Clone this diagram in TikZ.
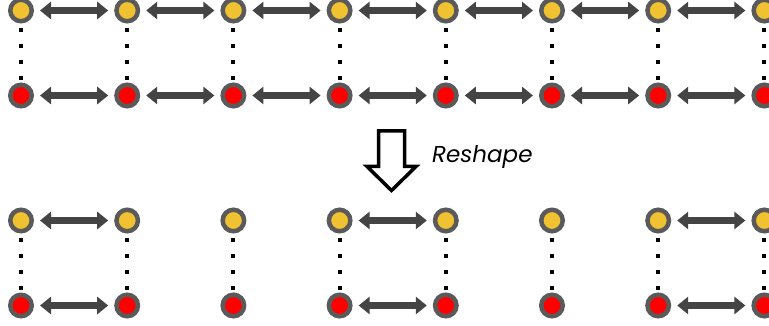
\documentclass[tikz,border=0pt]{standalone}
\usepackage{fontspec}
\setmainfont{Poppins}
\usetikzlibrary{arrows.meta}

\definecolor{ringgray}{RGB}{90,90,90}
\definecolor{linkgray}{RGB}{68,68,68}
\definecolor{sunyellow}{RGB}{240,194,50}

\tikzset{
	site/.style={circle, draw=ringgray, line width=4.5pt, minimum size=21.5pt, inner sep=0pt},
	upper/.style={site, fill=sunyellow},
	lower/.style={site, fill=red},
	link/.style={draw=linkgray, line width=7.5pt, shorten <=6pt, shorten >=6pt,
		{Triangle[width=17pt,length=11pt]}-{Triangle[width=17pt,length=11pt]}},
	rung/.style={draw=black, line width=4pt, dash pattern=on 4pt off 12pt, dash phase=11.5pt}
}

\begin{document}
\begin{tikzpicture}[x=1pt, y=-1pt]
	\useasboundingbox (0,0) rectangle (769,326);
	\clip (0,0) rectangle (769,326);

	% before
	\foreach \i in {0,...,7} {
		\node[upper] (a\i) at (21+106.2*\i, 10.5) {};
		\node[lower] (b\i) at (21+106.2*\i, 95.5) {};
		\draw[rung] (a\i) -- (b\i);
	}
	\foreach \i [evaluate=\i as \j using int(\i+1)] in {0,...,6} {
		\draw[link] (a\i) -- (a\j);
		\draw[link] (b\i) -- (b\j);
	}

	% reshape arrow
	\draw[line width=3.5pt, line join=miter]
		(378.5,131) -- (404.5,131) -- (404.5,166.5) -- (416,166.5) -- (391.5,190.5)
		-- (367,166.5) -- (378.5,166.5) -- cycle;
	\node[anchor=base west, inner sep=0pt, font=\fontsize{23}{26}\selectfont\itshape] (lbl) at (432,163) {Reshape};

	% after
	\foreach \i in {0,...,7} {
		\node[upper] (c\i) at (21+106.2*\i, 220.5) {};
		\node[lower] (d\i) at (21+106.2*\i, 305.5) {};
		\draw[rung] (c\i) -- (d\i);
	}
	\foreach \i/\j in {0/1, 3/4, 6/7} {
		\draw[link] (c\i) -- (c\j);
		\draw[link] (d\i) -- (d\j);
	}
\end{tikzpicture}
\end{document}
